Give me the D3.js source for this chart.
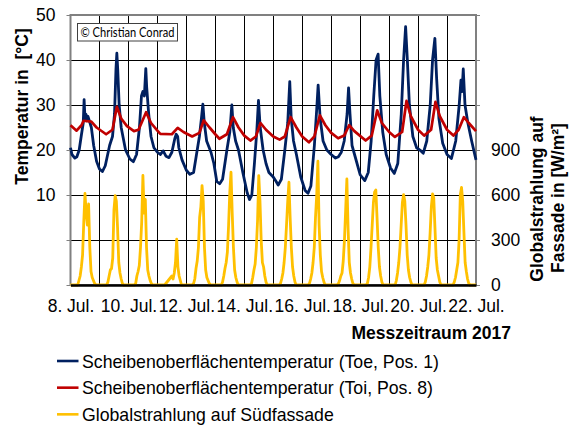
<!DOCTYPE html>
<html><head><meta charset="utf-8">
<script src="https://cdn.jsdelivr.net/npm/d3@7"></script>
<style>
body{margin:0;background:#fff}
svg{display:block}
text{font-family:"Liberation Sans",Arial,sans-serif;fill:#000}
</style>
</head><body>
<svg id="chart" width="572" height="425"></svg>
<script>
// ---------- data ----------
const startDate = new Date(2017, 6, 8);
const endDate = new Date(2017, 6, 22);
const xTickDays = [0, 2, 4, 6, 8, 10, 12, 14];
const xTickLabels = ["8. Jul.", "10. Jul.", "12. Jul.", "14. Jul.", "16. Jul.", "18. Jul.", "20. Jul.", "22. Jul."];
const tempTicks = [-10, 0, 10, 20, 30, 40, 50];
const tempTickLabels = ["", "", "10", "20", "30", "40", "50"];
const radTicks = [0, 300, 600, 900, 1200, 1500, 1800];
const radTickLabels = ["0", "300", "600", "900", "", "", ""];
const seriesNames = [
  "Scheibenoberflächentemperatur (Toe, Pos. 1)",
  "Scheibenoberflächentemperatur (Toi, Pos. 8)",
  "Globalstrahlung auf Südfassade"
];
const seriesColors = ["#002060", "#C00000", "#FFC000"];

// Toe (days since 8 Jul 00:00, °C)
const toeDays = [0,0.05,0.15,0.22,0.3,0.38,0.44,0.47,0.5,0.53,
  0.56,0.6,0.65,0.72,0.8,0.9,1.0,1.1,1.2,1.35,
  1.45,1.52,1.57,1.6,1.63,1.68,1.75,1.9,2.05,2.17,
  2.28,2.38,2.45,2.5,2.55,2.6,2.63,2.7,2.78,2.88,
  3.0,3.1,3.2,3.3,3.4,3.5,3.6,3.65,3.7,3.74,
  3.85,4.0,4.12,4.25,4.35,4.45,4.52,4.57,4.62,4.7,
  4.85,4.95,5.05,5.15,5.25,5.4,5.5,5.57,5.62,5.7,
  5.8,5.95,6.1,6.18,6.26,6.35,6.43,6.49,6.55,6.65,
  6.75,6.85,7.0,7.1,7.17,7.28,7.4,7.5,7.57,7.62,
  7.7,7.8,7.95,8.1,8.2,8.3,8.42,8.5,8.55,8.62,
  8.72,8.85,9.0,9.15,9.25,9.35,9.45,9.55,9.6,9.65,
  9.72,9.85,10.0,10.16,10.28,10.38,10.47,10.55,10.62,10.68,
  10.78,10.9,11.05,11.18,11.3,11.42,11.5,11.57,11.63,11.7,
  11.82,11.95,12.1,12.18,12.3,12.42,12.5,12.58,12.64,12.72,
  12.85,13.0,13.15,13.3,13.42,13.48,13.52,13.56,13.62,13.72,
  13.85,14.0];
const toeTemps = [20.5,19,18.2,18.5,20,23.5,26,31.2,27,28,
  26.5,27.5,26.5,25,21,17.5,15.8,15.2,16.5,21,
  23,28,38,41.5,38,30,25,20,18,17.4,
  19,25,32,33,32,38.1,34,28,23,20.5,
  19.5,19,19.8,18.6,18.3,19.5,22.5,23.5,23,20.5,
  17.8,15.5,14.6,15,19,23,27,30.2,26,22,
  19.5,17,13,12.5,13.5,20,24,30,25,22,
  20,15,10.5,9,10,17,24,31,25,20,
  17,15,14,13,12.2,13.5,20,26,35.2,27,
  22,19,14,11,10.4,12,21,29,34.4,27,
  22,20,19,18.2,18.5,19.5,22,28,33.8,28,
  21,18,14.5,13.2,15,22,32,40,41.3,32,
  24,19,16,14.8,17,28,40,47.4,40,30,
  23,20.5,19.8,19.3,22,30,40,44.8,36,27,
  21.5,19,18.1,22,30,35.5,33,38,30,26,
  22,17.8];

// Toi (days since 8 Jul 00:00, °C)
const toiDays = [0,0.21,0.38,0.45,0.72,0.9,1.23,1.45,1.6,1.75,
  1.95,2.19,2.35,2.61,2.78,3.0,3.1,3.5,3.7,3.9,
  4.2,4.45,4.6,4.8,5.0,5.14,5.4,5.61,5.8,6.0,
  6.21,6.4,6.56,6.75,7.0,7.22,7.4,7.6,7.8,8.0,
  8.23,8.42,8.61,8.8,9.0,9.24,9.45,9.62,9.8,10.19,
  10.4,10.59,10.75,11.0,11.2,11.45,11.6,11.75,12.0,12.21,
  12.45,12.6,12.75,13.0,13.22,13.4,13.58,13.75,14.0];
const toiTemps = [25.5,24.3,25.5,26.5,26.3,25.0,23.5,24.5,29.6,27,
  25.3,24.2,24.5,28.4,26,24.3,23.6,23.5,24.9,24,
  23,23.8,26.6,25,23.5,22.5,23.5,27.3,25,23.2,
  22.1,23,26,24.5,23,22.3,23,27.3,25,23,
  21.7,23,27.7,25.5,23.8,22.6,23.2,25.5,24.2,22.1,
  23.2,28.8,26,24,22.9,24,30.9,27.5,24.5,23.2,
  24.5,30.7,27.5,24.5,23.2,24.5,27.3,26,24.2];

// Global radiation, hourly values (W/m²), one row per day 8..21 Jul
const radiationByDay = [
  [0,0,0,0,0,0,0,30,60,120,200,420,610,480,400,540,250,90,50,30,10,0,0,0],
  [0,0,0,0,0,0,0,20,60,100,110,180,500,595,560,380,150,80,40,10,0,0,0,0],
  [0,0,0,0,0,0,10,60,90,130,250,420,730,480,570,250,100,60,30,10,0,0,0,0],
  [0,0,0,0,0,0,0,10,20,30,40,50,60,40,80,150,305,120,60,30,0,0,0,0],
  [0,0,0,0,0,0,10,40,110,160,250,450,520,662,560,250,100,50,30,10,0,0,0,0],
  [0,0,0,0,0,0,20,60,110,150,220,400,620,752,480,250,100,50,20,0,0,0,0,0],
  [0,0,0,0,0,0,10,50,100,140,250,430,729,560,300,150,120,60,20,0,0,0,0,0],
  [0,0,0,0,0,0,10,40,80,150,250,400,560,685,450,250,120,60,20,0,0,0,0,0],
  [0,0,0,0,0,0,10,40,80,150,250,450,600,825,400,200,90,50,20,0,0,0,0,0],
  [0,0,0,0,0,0,10,30,60,80,160,300,500,707,380,150,80,40,10,0,0,0,0,0],
  [0,0,0,0,0,0,10,50,120,250,400,550,620,633,450,250,120,60,20,0,0,0,0,0],
  [0,0,0,0,0,0,30,80,150,250,400,550,602,560,400,200,100,50,20,0,0,0,0,0],
  [0,0,0,0,0,0,20,60,120,200,350,520,607,580,380,180,100,60,20,0,0,0,0,0],
  [0,0,0,0,0,0,20,50,100,150,300,600,651,560,350,150,90,40,10,0,0,0,0,0]
];

// ---------- layout ----------
const svg = d3.select("#chart");
const L = 70.5, R = 476, T = 15, B = 285;
const dayToDate = d => new Date(startDate.getTime() + d * 86400000);

const x = d3.scaleTime().domain([startDate, endDate]).range([L, R]);
const yT = d3.scaleLinear().domain([-10, 50]).range([B, T]);
const yR = d3.scaleLinear().domain([0, 1800]).range([B, T]);

// gridlines
const grid = svg.append("g");
grid.selectAll("line.v").data(d3.timeDay.range(startDate, endDate).slice(1))
  .join("line").attr("x1", d => Math.round(x(d)) + 0.5).attr("x2", d => Math.round(x(d)) + 0.5)
  .attr("y1", T).attr("y2", B).attr("stroke", "#000").attr("stroke-width", 1);
grid.selectAll("line.h").data(tempTicks.slice(1, -1))
  .join("line").attr("x1", L).attr("x2", R)
  .attr("y1", d => Math.round(yT(d)) + 0.5).attr("y2", d => Math.round(yT(d)) + 0.5)
  .attr("stroke", "#000").attr("stroke-width", 1);

// plot border
svg.append("rect").attr("x", L).attr("y", T).attr("width", R - L).attr("height", B - T)
  .attr("fill", "none").attr("stroke", "#808080").attr("stroke-width", 2);

// series
const radPoints = [];
radiationByDay.forEach((row, di) => row.forEach((v, h) => radPoints.push([di + h / 24, v])));
radPoints.push([14, 0]);

const lineR = d3.line().x(d => x(dayToDate(d[0]))).y(d => yR(d[1]));
const lineT = d3.line().x(d => x(dayToDate(d[0]))).y(d => yT(d[1]));

svg.append("path").datum(radPoints).attr("d", lineR)
  .attr("fill", "none").attr("stroke", seriesColors[2]).attr("stroke-width", 2.8).attr("stroke-linejoin", "round");
svg.append("path").datum(toeDays.map((d, i) => [d, toeTemps[i]])).attr("d", lineT)
  .attr("fill", "none").attr("stroke", seriesColors[0]).attr("stroke-width", 2.8).attr("stroke-linejoin", "round");
svg.append("path").datum(toiDays.map((d, i) => [d, toiTemps[i]])).attr("d", lineT)
  .attr("fill", "none").attr("stroke", seriesColors[1]).attr("stroke-width", 2.7).attr("stroke-linejoin", "round");

// axes
const fs = "17.5px";
const axL = svg.append("g").attr("transform", `translate(${L},0)`)
  .call(d3.axisLeft(yT).tickValues(tempTicks).tickFormat((d, i) => tempTickLabels[i]).tickSize(4).tickPadding(11));
const axR = svg.append("g").attr("transform", `translate(${R},0)`)
  .call(d3.axisRight(yR).tickValues(radTicks).tickFormat((d, i) => radTickLabels[i]).tickSize(4).tickPadding(11));
const axB = svg.append("g").attr("transform", `translate(0,${B})`)
  .call(d3.axisBottom(x).tickValues(xTickDays.map(dayToDate)).tickFormat((d, i) => xTickLabels[i]).tickSize(0).tickPadding(15));
[axL, axR, axB].forEach(g => {
  g.selectAll("text").style("font-size", fs).style("font-family", '"Liberation Sans",Arial,sans-serif').attr("fill", "#000");
  g.selectAll(".tick line").attr("stroke", "#808080");
});
axL.select(".domain").remove();
axR.select(".domain").remove();
axB.select(".domain").attr("stroke", "#000").attr("stroke-width", 2.5);

// axis titles
svg.append("text").attr("transform", "translate(27.5,106.5) rotate(-90)")
  .attr("text-anchor", "middle").style("font-size", fs).style("font-weight", "bold").style("white-space", "pre")
  .text("Temperatur in  [°C]");
svg.append("text").attr("transform", "translate(542.5,199) rotate(-90)")
  .attr("text-anchor", "middle").style("font-size", fs).style("font-weight", "bold")
  .text("Globalstrahlung auf");
svg.append("text").attr("transform", "translate(563.5,198) rotate(-90)")
  .attr("text-anchor", "middle").style("font-size", fs).style("font-weight", "bold")
  .text("Fassade in [W/m²]");
svg.append("text").attr("x", 511).attr("y", 338.5).attr("text-anchor", "end")
  .style("font-size", fs).style("font-weight", "bold").text("Messzeitraum 2017");

// copyright box
svg.append("rect").attr("x", 77.5).attr("y", 23.5).attr("width", 100).attr("height", 17.5)
  .attr("fill", "#fff").attr("stroke", "#404040").attr("stroke-width", 1);
svg.append("text").attr("x", 80.5).attr("y", 37.2).style("font-family", "Lato, 'Open Sans', sans-serif")
  .style("font-size", "13px").attr("textLength", 94).attr("lengthAdjust", "spacingAndGlyphs")
  .text("© Christian Conrad");

// legend
const leg = svg.append("g");
seriesNames.forEach((name, i) => {
  const yy = 361 + i * 26.67;
  leg.append("line").attr("x1", 57).attr("x2", 78.5).attr("y1", yy).attr("y2", yy)
    .attr("stroke", seriesColors[i]).attr("stroke-width", 2.6);
  leg.append("text").attr("x", 82).attr("y", yy + 6.5).style("font-size", "17.7px").text(name);
});
</script>
</body></html>
